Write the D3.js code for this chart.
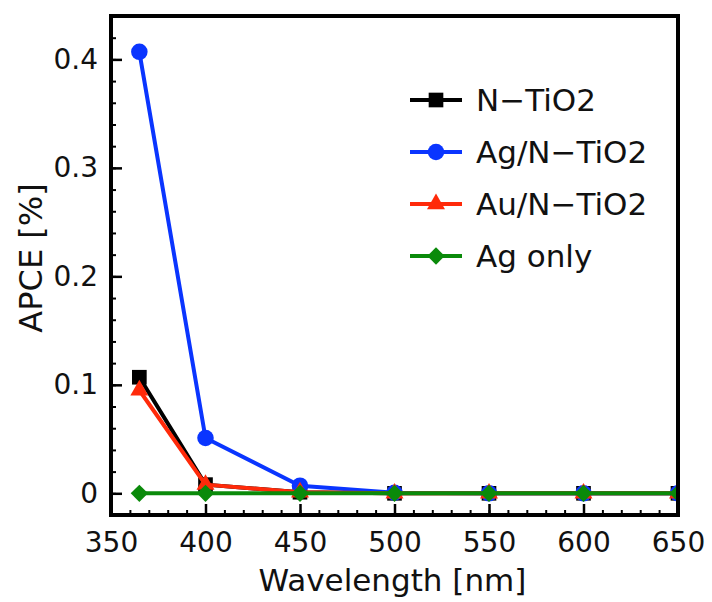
<!DOCTYPE html>
<html>
<head>
<meta charset="utf-8">
<script src="https://cdn.jsdelivr.net/npm/d3@7"></script>
<style>
  html, body { margin: 0; padding: 0; background: #fff; }
  svg { display: block; }
  text { font-family: "DejaVu Sans", "Noto Sans", sans-serif; fill: #111; }
</style>
</head>
<body>
<svg id="chart" width="712" height="602"></svg>
<script>
// Wavelengths (nm) and APCE values (%) for each sample
const wavelengths = [365, 400, 450, 500, 550, 600, 650];
const nTiO2   = [0.107, 0.008, 0.001, 0, 0, 0, 0];
const agNTiO2 = [0.407, 0.051, 0.007, 0.0005, 0, 0, 0];
const auNTiO2 = [0.095, 0.008, 0.001, 0, 0, 0, 0];
const agOnly  = [0, 0, 0, 0, 0, 0, 0];

const seriesNames = ["N\u2212TiO2", "Ag/N\u2212TiO2", "Au/N\u2212TiO2", "Ag only"];
const xTicks = [350, 400, 450, 500, 550, 600, 650];
const yTicks = [0, 0.1, 0.2, 0.3, 0.4];
const yTickLabels = ["0", "0.1", "0.2", "0.3", "0.4"];

// Square-shaped diamond (a square rotated 45 degrees)
const symbolRhomb = {
  draw(ctx, size) {
    const r = Math.sqrt(size / 2);
    ctx.moveTo(0, -r); ctx.lineTo(r, 0); ctx.lineTo(0, r); ctx.lineTo(-r, 0); ctx.closePath();
  }
};

const series = [
  { name: seriesNames[0], values: nTiO2,   color: "#000000", symbol: d3.symbolSquare,   size: 215 },
  { name: seriesNames[1], values: agNTiO2, color: "#0a35ff", symbol: d3.symbolCircle,   size: 215 },
  { name: seriesNames[2], values: auNTiO2, color: "#ff2a0a", symbol: d3.symbolTriangle, size: 140 },
  { name: seriesNames[3], values: agOnly,  color: "#0a8a0a", symbol: symbolRhomb,       size: 150 }
];

const svg = d3.select("#chart");
const m = { left: 111, right: 678, top: 16, bottom: 515 };

const x = d3.scaleLinear().domain([350, 650]).range([m.left, m.right]);
const y = d3.scaleLinear().domain([-0.02, 0.44]).range([m.bottom, m.top]);

// Axes with inward ticks
const xMinor = d3.range(350, 651, 10);
const yMinor = d3.range(-0.02, 0.441, 0.02);

const gx = svg.append("g").attr("transform", `translate(0,${m.bottom})`);
gx.call(d3.axisBottom(x).tickValues(xMinor).tickSize(-5).tickFormat(""));
gx.select(".domain").remove();
gx.selectAll("line").attr("stroke", "#000").attr("stroke-width", 2);
const gxMaj = svg.append("g").attr("transform", `translate(0,${m.bottom})`);
gxMaj.call(d3.axisBottom(x).tickValues(xTicks).tickSize(-11).tickPadding(17).tickFormat(d3.format("d")));
gxMaj.select(".domain").remove();
gxMaj.selectAll("line").attr("stroke", "#000").attr("stroke-width", 2.5);
gxMaj.selectAll("text").attr("font-size", 28).attr("fill", "#111");

const gy = svg.append("g").attr("transform", `translate(${m.left},0)`);
gy.call(d3.axisLeft(y).tickValues(yMinor).tickSize(-5).tickFormat(""));
gy.select(".domain").remove();
gy.selectAll("line").attr("stroke", "#000").attr("stroke-width", 2);
const gyMaj = svg.append("g").attr("transform", `translate(${m.left},0)`);
gyMaj.call(d3.axisLeft(y).tickValues(yTicks).tickSize(-11).tickPadding(13)
  .tickFormat((d, i) => yTickLabels[i]));
gyMaj.select(".domain").remove();
gyMaj.selectAll("line").attr("stroke", "#000").attr("stroke-width", 2.5);
gyMaj.selectAll("text").attr("font-size", 28).attr("fill", "#111");

// Clip to plot region so edge markers are cut by the frame
svg.append("clipPath").attr("id", "plotClip")
  .append("rect").attr("x", m.left).attr("y", m.top)
  .attr("width", m.right - m.left).attr("height", m.bottom - m.top);

const plot = svg.append("g").attr("clip-path", "url(#plotClip)");
const line = d3.line().x((d, i) => x(wavelengths[i])).y(d => y(d));

series.forEach(s => {
  const g = plot.append("g");
  g.append("path").datum(s.values)
    .attr("d", line).attr("fill", "none")
    .attr("stroke", s.color).attr("stroke-width", 4).attr("stroke-linejoin", "round");
  g.selectAll("path.pt").data(s.values).enter().append("path")
    .attr("class", "pt")
    .attr("d", d3.symbol().type(s.symbol).size(s.size))
    .attr("transform", (d, i) => `translate(${x(wavelengths[i])},${y(d)})`)
    .attr("fill", s.color);
});

// Frame
svg.append("rect")
  .attr("x", m.left).attr("y", m.top)
  .attr("width", m.right - m.left).attr("height", m.bottom - m.top)
  .attr("fill", "none").attr("stroke", "#000").attr("stroke-width", 4);

// Legend
const legend = svg.append("g");
series.forEach((s, i) => {
  const cy = 100 + i * 52;
  legend.append("line").attr("x1", 410).attr("x2", 462).attr("y1", cy).attr("y2", cy)
    .attr("stroke", s.color).attr("stroke-width", 4);
  legend.append("path")
    .attr("d", d3.symbol().type(s.symbol).size(s.size))
    .attr("transform", `translate(436,${cy})`).attr("fill", s.color);
  legend.append("text").attr("x", 476).attr("y", cy).attr("dy", "0.36em")
    .attr("font-size", 31).text(s.name);
});

// Axis titles
svg.append("text").attr("x", (m.left + m.right) / 2 - 2).attr("y", 591)
  .attr("text-anchor", "middle").attr("font-size", 31).text("Wavelength [nm]");
svg.append("text").attr("transform", "translate(42,258) rotate(-90)")
  .attr("text-anchor", "middle").attr("font-size", 32).text("APCE [%]");
</script>
</body>
</html>
